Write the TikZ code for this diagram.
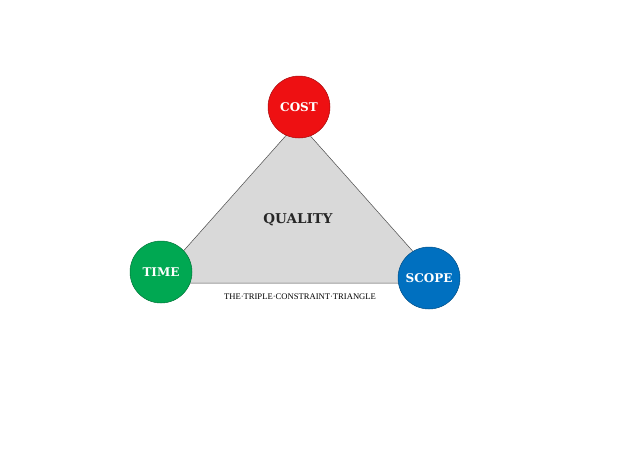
\documentclass[tikz,border=0pt]{standalone}
\usepackage{fontspec}
\setmainfont{Liberation Serif}
\newfontfamily\slabfont{DejaVuSerif-Bold.ttf}
\begin{document}
\begin{tikzpicture}[x=1pt,y=-1pt,
  corner/.style={circle, minimum size=62pt, inner sep=0pt, line width=0.5pt,
    text=white, font=\slabfont\fontsize{12}{14}\selectfont},
  tri/.style={fill=gray!30!white, draw=black!70, line width=0.5pt}]
  \useasboundingbox (0,0) rectangle (642,451);
  \definecolor{costred}{RGB}{238,16,18}
  \definecolor{timegreen}{RGB}{0,168,82}
  \definecolor{scopeblue}{RGB}{0,112,192}
  % triangle corners
  \coordinate (apex) at (298,122);
  \coordinate (bl) at (155,283);
  \coordinate (br) at (441,283);
  \draw[tri] (apex) -- (bl) -- (br) -- cycle;
  \node[font=\slabfont\fontsize{13.5}{16}\selectfont, text=black!85] (quality) at (298,220) {QUALITY};
  % constraint circles
  \node[corner, fill=costred, draw=costred!70!black] (cost) at (299,107) {COST};
  \node[corner, fill=timegreen, draw=timegreen!70!black] (time) at (161,272) {TIME};
  \node[corner, fill=scopeblue, draw=scopeblue!70!black] (scope) at (429,278) {SCOPE};
  \node[font=\fontsize{8.6}{10}\selectfont, inner sep=0pt] (caption) at (300,297) {THE·TRIPLE·CONSTRAINT·TRIANGLE};
\end{tikzpicture}
\end{document}
